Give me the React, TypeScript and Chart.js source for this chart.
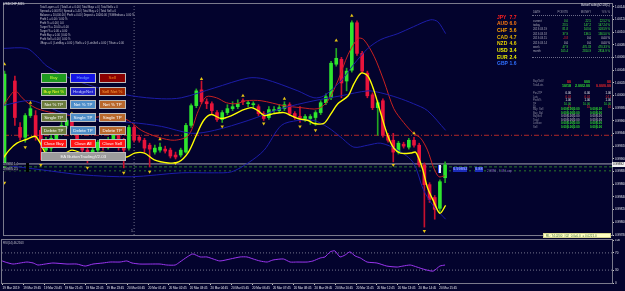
import React, { useEffect, useRef } from "react";
import { Chart, registerables } from "chart.js";
Chart.register(...registerables);

const BG = "#03032d";
const FONT = '"Liberation Sans", Arial, sans-serif';
const IDX_MIN = -0.1;
const IDX_MAX = 117.2;

// ---- candles (price in chart units, index = bar number) ----
const OPEN = [75, null, 160, 113, 103, 125, 125, 110, 90, 92, 100, 108, 115, 120, 108, 98, 90, 82, 90, 98, 93, 100, 105, 98, 92, 113, 103, 100, 95, 88, 90, 91, 90, 85, 85, 88, 115, 135, 151, 139, 137, 128, 121, 128, 132, 134, 140, 137, 136, 134, 127, 123, 130, 130, 132, 136, 127, 124, 122, 122, 123, 128, 138, 143, 177, 182, 160, 171, 219, 188, 168, 146, 133, 140, 105, 100, 88, 96, 93, 100, 95, 75, 55, 42, 31, 62];
const HIGH = [170, null, 165, 118, 127, 136, 130, 113, 103, 105, 113, 118, 122, 123, 110, 100, 92, 93, 100, 100, 103, 108, 107, 102, 115, 115, 105, 102, 97, 95, 97, 94, 92, 88, 92, 117, 137, 152, 160, 142, 139, 130, 130, 136, 139, 141, 142, 140, 139, 136, 129, 134, 134, 136, 139, 138, 129, 134, 126, 126, 130, 140, 147, 180, 193, 184, 173, 221, 221, 190, 170, 148, 140, 142, 107, 107, 99, 98, 102, 103, 97, 77, 57, 44, 60, 78];
const LOW = [72, null, 115, 100, 98, 123, 100, 80, 87, 89, 98, 105, 112, 106, 95, 87, 77, 80, 88, 90, 91, 98, 90, 72, 90, 98, 98, 88, 73, 86, 88, 87, 82, 81, 83, 87, 113, 133, 137, 132, 127, 119, 118, 126, 130, 132, 136, 134, 133, 125, 120, 121, 128, 128, 130, 125, 121, 118, 119, 116, 115, 126, 136, 141, 175, 143, 150, 169, 186, 168, 143, 131, 105, 103, 98, 78, 86, 92, 91, 93, 73, 12, 37, 20, 28, 57];
const CLOSE = [167, null, 123, 103, 125, 132, 103, 98, 100, 102, 110, 115, 120, 108, 98, 90, 82, 90, 98, 93, 100, 105, 98, 90, 113, 100, 100, 92, 91, 92, 93, 89, 84, 83, 90, 115, 135, 150, 139, 137, 130, 121, 128, 132, 134, 137, 139, 138, 137, 127, 122, 131, 131, 133, 136, 127, 123, 123, 124, 124, 128, 138, 144, 178, 183, 158, 170, 219, 188, 170, 145, 133, 138, 105, 100, 88, 97, 94, 100, 95, 75, 55, 40, 30, 58, 75];

// ---- indicator lines: [bar index, value] ----
const RED_MA = [[-0.5, 133], [2, 150], [3.4, 143], [4.7, 137], [6.3, 132], [9.1, 128], [13, 125], [16.8, 123], [20.7, 125], [23.9, 120], [26.4, 110], [29.7, 103], [32.8, 100], [35.5, 105], [37.4, 130], [38.9, 144], [40.9, 143], [42.8, 138], [44.7, 137], [46.6, 140], [49.5, 140], [53.9, 135], [57.2, 133], [60.5, 132], [62.4, 140], [64.3, 160], [66.3, 187], [68.2, 203], [69.3, 202], [71.3, 185], [73.2, 160], [75.1, 132], [77, 118], [78.9, 107], [80.3, 102], [81.6, 90], [82.8, 72], [83.8, 63], [84.9, 64]];
const YELLOW_MA = [[-0.5, 80], [0.9, 90], [2.4, 97], [4.3, 101], [5.9, 104], [6.8, 98], [8.2, 85], [10.1, 82], [13, 90], [15.9, 85], [18.8, 88], [21.6, 85], [23.6, 83], [25.1, 87], [27, 87], [28.9, 80], [31.6, 77], [33.6, 78], [35.5, 88], [37, 105], [38.4, 120], [39.9, 126], [41.8, 122], [43.8, 125], [45.7, 130], [47.6, 133], [48.9, 130], [50.1, 125], [52, 127], [53.9, 128], [55.3, 125], [56.6, 122], [58.6, 120], [59.7, 117], [61.6, 117], [63, 127], [64.3, 137], [66.3, 145], [67.4, 157], [68.8, 168], [70.1, 165], [71.3, 150], [72.6, 127], [73.9, 105], [75.1, 92], [76.4, 87], [78.4, 87], [79.3, 88], [79.9, 82], [80.7, 70], [81.6, 52], [82.8, 38], [84, 26], [85.1, 34]];
const BAND_UP = [[-0.5, 193], [4.3, 193], [6.3, 185], [8.2, 175], [13, 162], [18.8, 152], [24.5, 145], [30.3, 142], [34.1, 143], [40.5, 153], [47, 163], [50.1, 162], [56.6, 150], [59.7, 143], [61.6, 145], [64.9, 160], [67.4, 177], [70.1, 193], [72.6, 202], [75.9, 208], [78.9, 215], [82.2, 222], [83.6, 220], [85.1, 208]];
const BAND_MID = [[-0.5, 135], [5.3, 140], [11.1, 128], [18.8, 120], [24.5, 118], [30.3, 114], [36.1, 107], [40.5, 110], [47, 120], [53.4, 132], [59.7, 140], [64.9, 145], [70.1, 150], [72.6, 148], [75.9, 143], [78.9, 137], [81.6, 130], [85.1, 110]];
const BAND_LOW = [[-0.5, 75], [7.2, 70], [14.9, 65], [24.5, 63], [34.1, 67], [40.5, 67], [43.8, 68], [47, 77], [50.1, 90], [53.4, 115], [56.6, 120], [59.7, 120], [62.4, 113], [64.9, 103], [67.4, 93], [70.1, 95], [72.6, 97], [75.9, 90], [78.9, 77], [80.8, 50], [82.8, 33], [85.1, 20]];
const FRACTAL_UP = [[0, 177], [5, 138], [13, 127], [30, 101], [38, 162], [46, 145], [54, 142], [64, 201], [67, 226], [79, 107]];
const FRACTAL_DOWN = [[0, 57], [4, 93], [7, 75], [16, 72], [23, 67], [28, 68], [33, 77], [42, 114], [50, 117], [57, 114], [60, 110], [75, 75], [81, 8]];
const LEVEL_RED = 105;
const LEVEL_BID = 76;
const LEVEL_GREEN = [73, 69];
const SEPARATOR_BAR = 25;

const PRICE_TICK_V = [4, 16.83, 29.66, 42.5, 55.33, 68.16, 81, 93.83, 106.66, 119.5, 132.33, 145.16, 158, 170.83, 183.66, 196.5, 209.33, 222.16, 235];
const PRICE_TICKS = ["0.99780", "0.99800", "0.99820", "0.99840", "0.99860", "0.99880", "0.99900", "0.99920", "0.99940", "0.99960", "0.99980", "1.00000", "1.00020", "1.00040", "1.00060", "1.00080", "1.00100", "1.00120", "1.00140"];
const BID_LABEL = "0.99892";

// ---- RSI: [bar index, value] ----
const RSI = [[-0.5, 53.5], [0.5, 48.8], [2, 44.1], [3.4, 46.5], [4.7, 48.8], [5.9, 46.5], [6.8, 41.8], [8.2, 44.1], [9.7, 46.5], [12.4, 44.1], [14.3, 44.1], [15.9, 39.4], [17.4, 44.1], [19.3, 46.5], [20.7, 48.8], [22.6, 48.8], [23.9, 51.2], [24.9, 46.5], [26.4, 44.1], [28.4, 44.1], [30.3, 44.1], [31.6, 41.8], [33.2, 41.8], [34.1, 48.8], [35.5, 60.6], [36.6, 67.6], [38, 60.6], [39.3, 60.6], [40.5, 55.9], [41.8, 51.2], [43.8, 55.9], [45.7, 60.6], [47, 60.6], [48.2, 55.9], [49.5, 51.2], [50.9, 48.8], [52, 53.5], [54, 55.9], [55.3, 48.8], [56.6, 48.8], [58.6, 48.8], [59.7, 51.2], [61.1, 58.2], [62, 60.6], [63, 72.4], [63.9, 74.7], [64.9, 60.6], [65.9, 65.3], [66.8, 72.4], [67.8, 62.9], [68.8, 58.2], [70.1, 48.8], [72, 46.5], [73.9, 39.4], [75.9, 37.1], [77, 39.4], [78.4, 41.8], [79.7, 37.1], [80.9, 32.4], [82.8, 27.6], [84.1, 39.4], [85.1, 41.8]];
const RSI_LEVELS = [70, 30];
const RSI_TICKS = [0, 30, 70, 100];
const TIME_LABELS = ["19 Mar 2019", "19 Mar 19:45", "19 Mar 20:45", "19 Mar 21:45", "19 Mar 22:45", "19 Mar 23:45", "20 Mar 00:45", "20 Mar 01:45", "20 Mar 02:45", "20 Mar 03:45", "20 Mar 04:45", "20 Mar 05:45", "20 Mar 06:45", "20 Mar 07:45", "20 Mar 08:45", "20 Mar 09:45", "20 Mar 10:45", "20 Mar 11:45", "20 Mar 12:45", "20 Mar 13:45", "20 Mar 14:45", "20 Mar 15:45"];

// ---- panel texts ----
const SYMBOL = "USDCHF,M15";
const INFO_LINES = [
  "Total Layers = 0 | Total Lot = 0.00 | Total Buys = 0 | Total Sells = 0",
  "Spread = 0.00070 | Spread = 1.40 | Total Buy = 0 | Total Sell = 0",
  "Balance = 10,000.00 | Profit = 0.00 | Deposit = 10000.00 | %Withdraw = 0.00 %",
  "Profit 1 = 0.00 / 0.00 %",
  "Profit % = 0.00 | 0.0",
  "Target % = 20.00 = 0.00",
  "Target % = 0.00 = 0.00",
  "Profit Buy = 0.00 | 0.00 %",
  "Profit Sell = 0.00 | 0.00 %",
  "#Buys = 0 | LotsBuy = 0.00 | #Sells = 0 | LotsSell = 0.00 | TGain = 0.00",
];
const BUTTONS = [
  ["Buy", "Hedge", "Sell"],
  ["Buy Net %", "HedgeNet", "Sell Net %"],
  ["Net % TP", "Net % TP", "Net % TP"],
  ["Single TP", "Single TP", "Single TP"],
  ["Delete TP", "Delete TP", "Delete TP"],
  ["Close Buy", "Close All", "Close Sell"],
];
const EA_NAME = "EA ButtonTradingV2.03";
const CURRENCIES = ["JPY", "AUD", "CHF", "CAD", "NZD", "USD", "EUR", "GBP"];
const STRENGTH = ["7.7", "6.0", "5.6", "4.7", "4.6", "3.4", "2.4", "1.6"];
const STAT_HEAD = ["DATE", "POINTS", "MONEY", "%% %"];
const STAT_DATES = ["current", "today", "2019.03.19", "2019.03.18", "2019.03.15", "2019.03.14", "week", "month"];
const STAT_POINTS = ["0.0", "23.5", "81.8", "37.9", "-3.8", "0.0", "47.9", "105.4"];
const STAT_MONEY = ["22.5", "147.2", "103.6", "136.5", "0.0", "0.0", "470.33", "2814.9"];
const STAT_PCT = ["22.52 %", "147.24 %", "103.59 %", "136.50 %", "0.00 %", "0.00 %", "470.33 %", "2814.9 %"];
const LOWER_LABELS = ["Buy/Sell#", "TotalLots", "Pos2TP", "Lots", "Profit%", "TP", "SL"];
const LOWER_VALUES = [["00", "000", "00"], ["10/18", "2.00/2.00", "0.00/0.00"], ["0.00", "0.00", "1.00"], ["0.01", "0.01", "0.11"], ["1.00", "1.00", "1.00"], ["10.00", "10.00", "10.00"], ["10", "10", "10"]];
const GRID_LABELS = ["Buy_Sell", "Buy_Bal", "BuySell", "Total", "LotSize", "Sell"];
const GRID_VALUES = [["0.00|0.00|0.00", "0.00|0.00"], ["0.00|0.00|0.00", "0.00|0.00"], ["0.00|0.00|0.00", "0.00|0.00"], ["0.00|0.00|0.00", "0.00|0.00"], ["0.00|0.00|0.00", "0.00|0.00"], ["0.00|0.00|0.00", "0.00|0.00"]];
const RSI_LABEL = "RSI(14) 46.2563";
const INFO_BOX = "RL: 74.0200  #02  0.0=0.0  = 0.0221.0";
const SIGNAL_TEXT = ["0.99892", "0.88"];
const LOOP_TEXT = "2.9886 , 7.08 Loop";
const LEFT_TAGS = ["0.99892 1.4", "0.99870 2.1"];

const pts = (arr: number[][]) => arr.map(([x, y]) => ({ x, y }));

const framePlugin = {
  id: "frame",
  beforeDraw(chart: any) {
    const { ctx, width, height } = chart;
    ctx.save();
    ctx.fillStyle = BG;
    ctx.fillRect(0, 0, width, height);
    ctx.restore();
  },
  afterDraw(chart: any) {
    const { ctx, chartArea: a } = chart;
    ctx.save();
    ctx.strokeStyle = "#7a7a8c";
    ctx.lineWidth = 1;
    ctx.strokeRect(Math.round(a.left) - 0.5, Math.round(a.top) - 0.5, Math.round(a.width) + 1, Math.round(a.height) + 1);
    ctx.restore();
  },
};

function lineDs(data: number[][], color: string, width = 1, extra: any = {}) {
  return { type: "line", data: pts(data), borderColor: color, borderWidth: width, pointRadius: 0, tension: 0.3, order: 1, ...extra };
}

function mainConfig(): any {
  const candles = OPEN.map((o, i) => ({ i, o, h: HIGH[i], l: LOW[i], c: CLOSE[i] })).filter((d) => d.o !== null) as any[];
  const bull = candles.map((d) => d.c >= d.o);
  const hline = (v: number) => [[IDX_MIN, v], [IDX_MAX, v]];
  return {
    type: "bar",
    data: {
      datasets: [
        { type: "bar", data: candles.map((d) => ({ x: d.i, y: [d.l, d.h] })), backgroundColor: bull.map((b) => (b ? "#22a622" : "#c8102e")), barThickness: 1, grouped: false, order: 6 },
        { type: "bar", data: candles.map((d) => ({ x: d.i, y: [d.o, d.c] })), backgroundColor: bull.map((b) => (b ? "#2ee62e" : "#e8143c")), barThickness: 3, minBarLength: 1, grouped: false, order: 5 },
        lineDs(hline(LEVEL_RED), "#b02828", 1, { tension: 0, borderDash: [5, 2, 1, 2], order: 7 }),
        lineDs(hline(LEVEL_BID), "#a4a4b0", 1, { tension: 0, order: 7 }),
        lineDs(hline(LEVEL_GREEN[0]), "#2a7a2a", 1, { tension: 0, borderDash: [3, 2], order: 7 }),
        lineDs(hline(LEVEL_GREEN[1]), "#2a7a2a", 1, { tension: 0, borderDash: [2, 3], order: 7 }),
        lineDs([[SEPARATOR_BAR, 4], [SEPARATOR_BAR, 238]], "#6e6e86", 1, { tension: 0, borderDash: [1, 2], order: 7 }),
        lineDs(BAND_UP, "#1c1ca8"),
        lineDs(BAND_MID, "#1c1ca8"),
        lineDs(BAND_LOW, "#1c1ca8"),
        lineDs(RED_MA, "#c82020"),
        lineDs(YELLOW_MA, "#ffff00", 1.4, { order: 0 }),
        { type: "line", data: pts(FRACTAL_UP), showLine: false, pointStyle: "triangle", pointRadius: 2, pointRotation: 0, backgroundColor: "#e6c414", borderColor: "#e6c414", borderWidth: 0, order: 0 },
        { type: "line", data: pts(FRACTAL_DOWN), showLine: false, pointStyle: "triangle", pointRadius: 2, pointRotation: 180, backgroundColor: "#e6c414", borderColor: "#e6c414", borderWidth: 0, order: 0 },
      ],
    },
    options: {
      responsive: false,
      animation: false,
      devicePixelRatio: 1,
      events: [],
      layout: { padding: { left: 2, top: 2, right: 0, bottom: 3 } },
      plugins: { legend: { display: false }, tooltip: { enabled: false } },
      scales: {
        x: { type: "linear", min: IDX_MIN, max: IDX_MAX, display: false, offset: false },
        y: {
          position: "right",
          min: 4,
          max: 238,
          afterBuildTicks: (s: any) => { s.ticks = PRICE_TICK_V.map((v) => ({ value: v })); },
          afterFit: (s: any) => { s.width = 13; s.paddingTop = 0; s.paddingBottom = 0; },
          ticks: { callback: (_v: any, i: number) => PRICE_TICKS[i], font: { size: 3, family: FONT }, color: "#e6e6ee", padding: 1, autoSkip: false },
          grid: { drawOnChartArea: false, tickLength: 2, color: "#c8c8c8" },
          border: { color: "#9a9aa8" },
        },
      },
    },
    plugins: [framePlugin],
  };
}

function rsiConfig(): any {
  return {
    type: "line",
    data: {
      datasets: [
        { data: pts(RSI), borderColor: "#9b35f0", borderWidth: 1, pointRadius: 0, tension: 0.2 },
        ...RSI_LEVELS.map((v) => ({ data: pts([[IDX_MIN, v], [IDX_MAX, v]]), borderColor: "#74748c", borderWidth: 1, borderDash: [1, 2], pointRadius: 0 })),
      ],
    },
    options: {
      responsive: false,
      animation: false,
      devicePixelRatio: 1,
      events: [],
      layout: { padding: { left: 2, top: 1, right: 0, bottom: 0 } },
      plugins: { legend: { display: false }, tooltip: { enabled: false } },
      scales: {
        x: {
          type: "linear",
          min: IDX_MIN,
          max: IDX_MAX,
          afterBuildTicks: (s: any) => { s.ticks = TIME_LABELS.map((_, k) => ({ value: k * 4 })); },
          afterFit: (s: any) => { s.height = 8; s.paddingLeft = 0; s.paddingRight = 0; },
          ticks: { callback: (_v: any, i: number) => TIME_LABELS[i], align: "start", maxRotation: 0, autoSkip: false, font: { size: 3, family: FONT }, color: "#e6e6ee", padding: 1 },
          grid: { drawOnChartArea: false, tickLength: 2, color: "#c8c8c8" },
          border: { color: "#9a9aa8" },
        },
        y: {
          position: "right",
          min: 0,
          max: 100,
          afterBuildTicks: (s: any) => { s.ticks = RSI_TICKS.map((v) => ({ value: v })); },
          afterFit: (s: any) => { s.width = 13; s.paddingTop = 0; s.paddingBottom = 0; },
          ticks: { font: { size: 3, family: FONT }, color: "#e6e6ee", padding: 1, autoSkip: false },
          grid: { drawOnChartArea: false, tickLength: 2, color: "#c8c8c8" },
          border: { color: "#9a9aa8" },
        },
      },
    },
    plugins: [framePlugin],
  };
}

function T({ x, y, s = 3, c = "#d0d0d8", bold = false, right, children, bg }: any) {
  const st: any = { position: "absolute", top: y, fontSize: s, lineHeight: `${s * 1.15}px`, color: c, whiteSpace: "pre", fontWeight: bold ? 700 : 400, fontFamily: FONT };
  if (right !== undefined) st.right = 625 - right; else st.left = x;
  if (bg) st.background = bg;
  return <div style={st}>{children}</div>;
}

const BTN_STYLE = [
  [["#1f9a1f", "#d4ff3c"], ["#1414e6", "#78a4ff"], ["#8a0000", "#ff8c1a"]],
  [["#3c9c1c", "#ffff30"], ["#2222cc", "#c4ccff"], ["#a02800", "#ffa040"]],
  [["#6b7b3c", "#ffffff"], ["#4e8ec8", "#ffffff"], ["#b8682c", "#ffffff"]],
  [["#6b7b3c", "#ffffff"], ["#4e8ec8", "#ffffff"], ["#b8682c", "#ffffff"]],
  [["#6b7b3c", "#ffffff"], ["#4e8ec8", "#ffffff"], ["#b8682c", "#ffffff"]],
  [["#ff1414", "#ffffff"], ["#ff1414", "#ffffff"], ["#ff1414", "#ffffff"]],
];
const BTN_TOPS = [73, 86.5, 99.5, 112.5, 125.5, 138.5];
const BTN_COLS = [[41, 25.5], [70, 26], [99, 26.5]];
const CUR_COLORS = ["#ff2020", "#ff7a10", "#ffa000", "#e6b400", "#e8d000", "#f2f200", "#f0f000", "#3070ff"];

function Btn({ x, y, w, h, bg, fg, label }: any) {
  return (
    <div style={{ position: "absolute", left: x, top: y, width: w, height: h, boxSizing: "border-box", background: bg, color: fg, border: "1px solid #bcbcbc", fontFamily: FONT, fontSize: 4.4, display: "flex", alignItems: "center", justifyContent: "center", whiteSpace: "pre" }}>
      {label}
    </div>
  );
}

export default function App() {
  const mainRef = useRef<HTMLCanvasElement>(null);
  const rsiRef = useRef<HTMLCanvasElement>(null);
  useEffect(() => {
    document.body.style.margin = "0";
    document.body.style.background = BG;
    const main = new Chart(mainRef.current as HTMLCanvasElement, mainConfig());
    const rsi = new Chart(rsiRef.current as HTMLCanvasElement, rsiConfig());
    return () => { main.destroy(); rsi.destroy(); };
  }, []);

  return (
    <div style={{ position: "fixed", left: 0, top: 0, width: 625, height: 291, background: BG, overflow: "hidden" }}>
      <canvas ref={mainRef} width={625} height={239} style={{ position: "absolute", left: 0, top: 0, width: 625, height: 239 }} />
      <canvas ref={rsiRef} width={625} height={52} style={{ position: "absolute", left: 0, top: 239, width: 625, height: 52 }} />

      {/* symbol */}
      <T x={3} y={2.5} s={3.4} c="#e8e8f0">{SYMBOL}</T>
      {/* info lines */}
      {INFO_LINES.map((l, k) => (
        <T key={k} x={40} y={5.5 + k * 4.1} s={2.7} c="#c8c8d4">{l}</T>
      ))}

      {/* buttons */}
      {BUTTONS.map((row, r) =>
        row.map((lab, c) => (
          <Btn key={r + "-" + c} x={BTN_COLS[c][0]} y={BTN_TOPS[r]} w={BTN_COLS[c][1]} h={9.5} bg={BTN_STYLE[r][c][0]} fg={BTN_STYLE[r][c][1]} label={lab} />
        ))
      )}
      <Btn x={41} y={151.5} w={84.5} h={9.5} bg="#9c9c9c" fg="#f4f4f4" label={EA_NAME} />

      {/* left tags */}
      {LEFT_TAGS.map((t, k) => (
        <T key={k} x={3} y={163 + k * 4.5} s={2.8} c="#c4c4cc" bg="#1a1a3a">{t}</T>
      ))}
      <div style={{ position: "absolute", left: 26, top: 163, width: 3, height: 9, background: "#000" }} />

      {/* separator marker */}
      <T x={131} y={229} s={3.5} c="#b0b0c0">1</T>

      {/* current bar signal marker */}
      <div style={{ position: "absolute", left: 438, top: 165, width: 2, height: 8, background: "#f0f0ff", borderLeft: "1px solid #3050ff" }} />
      <T x={453} y={167} s={4} c="#90a0ff" bold bg="#1c2cb8">{SIGNAL_TEXT[0]}</T>
      <T x={475} y={167} s={4} c="#90a0ff" bold bg="#1c2cb8">{SIGNAL_TEXT[1]}</T>
      <T x={487} y={169.5} s={3} c="#8a66c8">{LOOP_TEXT}</T>

      {/* currency strength */}
      {CURRENCIES.map((cur, k) => (
        <React.Fragment key={cur}>
          <T x={497} y={14.5 + k * 6.7} s={5} c={CUR_COLORS[k]} bold>{cur}</T>
          <T x={509.5} y={14.5 + k * 6.7} s={5} c={CUR_COLORS[k]} bold>{STRENGTH[k]}</T>
        </React.Fragment>
      ))}

      {/* title */}
      <T x={581} y={3.5} s={2.8} c="#e8e8f0">ButtonTradingV2.03(C)</T>

      {/* stats table */}
      <T x={533} y={10.5} s={2.8} c="#9c9cb0">{STAT_HEAD[0]}</T>
      <T right={568} y={10.5} s={2.8} c="#9c9cb0">{STAT_HEAD[1]}</T>
      <T right={591} y={10.5} s={2.8} c="#9c9cb0">{STAT_HEAD[2]}</T>
      <T right={610} y={10.5} s={2.8} c="#9c9cb0">{STAT_HEAD[3]}</T>
      <div style={{ position: "absolute", left: 532, top: 15, width: 80, borderTop: "1px dotted #6c6c88" }} />
      <div style={{ position: "absolute", left: 532, top: 57, width: 80, borderTop: "1px dotted #6c6c88" }} />
      {STAT_DATES.map((d, k) => {
        const y = 19.5 + k * 4.4;
        const neg = STAT_POINTS[k].startsWith("-");
        const zero = STAT_MONEY[k] === "0.0";
        const g = "#3ee63e";
        return (
          <React.Fragment key={d}>
            <T x={533} y={y} s={2.8} c="#a8a8b8">{d}</T>
            <T right={568} y={y} s={2.8} c={neg ? "#ff3030" : zero ? "#d0d0d0" : g}>{STAT_POINTS[k]}</T>
            <T right={591} y={y} s={2.8} c={zero ? "#d0d0d0" : g}>{STAT_MONEY[k]}</T>
            <T right={610} y={y} s={2.8} c={zero ? "#d0d0d0" : g}>{STAT_PCT[k]}</T>
          </React.Fragment>
        );
      })}

      {/* lower block */}
      {LOWER_LABELS.map((lab, k) => {
        const ys = [79.5, 83.5, 91.5, 95.5, 99, 102.5, 106];
        const cols = [
          ["#ff2828", "#30e030", "#ff2828"],
          ["#30e030", "#30e030", "#ff2828"],
          ["#f0f0f0", "#f0f0f0", "#f0f0f0"],
          ["#ff3030", "#ff3030", "#ff3030"],
          ["#f0f0f0", "#f0f0f0", "#f0f0f0"],
          ["#30e030", "#30e030", "#30e030"],
          ["#ff3030", "#ff3030", "#ff3030"],
        ];
        const big = k < 2;
        return (
          <React.Fragment key={lab}>
            <T x={533} y={ys[k]} s={2.6} c="#8c8ca0">{lab}</T>
            <T right={571} y={ys[k]} s={big ? 3.6 : 2.8} c={cols[k][0]} bold={big}>{LOWER_VALUES[k][0]}</T>
            <T right={590} y={ys[k]} s={big ? 3.6 : 2.8} c={cols[k][1]} bold={big}>{LOWER_VALUES[k][1]}</T>
            <T right={611} y={ys[k]} s={big ? 3.6 : 2.8} c={cols[k][2]} bold={big}>{LOWER_VALUES[k][2]}</T>
          </React.Fragment>
        );
      })}
      {GRID_LABELS.map((lab, k) => {
        const y = 108 + k * 3.5;
        const gray = k === 2 || k === 3;
        const c = gray ? "#a0a0a8" : "#30e030";
        return (
          <React.Fragment key={lab}>
            <T x={533} y={y} s={2.6} c="#8c8ca0">{lab}</T>
            <T x={561} y={y} s={2.9} c={c} bold>{GRID_VALUES[k][0]}</T>
            <T x={590} y={y} s={2.9} c={c} bold>{GRID_VALUES[k][1]}</T>
          </React.Fragment>
        );
      })}

      {/* bid label on price axis */}
      <div style={{ position: "absolute", left: 612, top: 161.5, width: 13, height: 5, background: "#f0f0f0", color: "#000", fontSize: 3, lineHeight: "5px", fontFamily: FONT, paddingLeft: 1, boxSizing: "border-box" }}>{BID_LABEL}</div>

      {/* info box */}
      <div style={{ position: "absolute", left: 543, top: 232.5, width: 68, height: 5.5, background: "#ffffc4", color: "#3c6a3c", fontSize: 3, lineHeight: "5.5px", fontFamily: FONT, paddingLeft: 2, boxSizing: "border-box", whiteSpace: "pre", border: "1px solid #d8d890" }}>{INFO_BOX}</div>

      {/* rsi label */}
      <T x={3} y={241.5} s={2.8} c="#c0c0cc">{RSI_LABEL}</T>
    </div>
  );
}
